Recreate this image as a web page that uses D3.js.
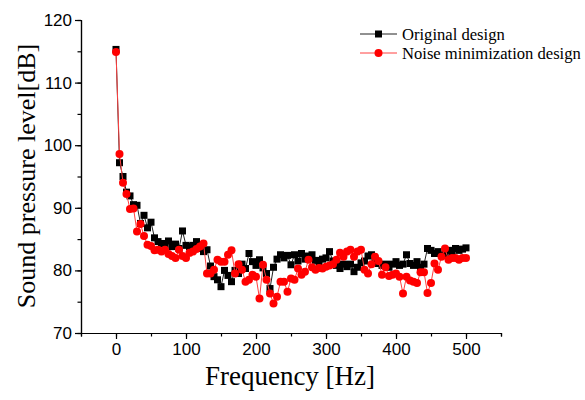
<!DOCTYPE html>
<html>
<head>
<meta charset="utf-8">
<script src="https://cdn.jsdelivr.net/npm/d3@7"></script>
<style>
  body { margin: 0; background: #fff; }
  .tick text { font-family: "Liberation Sans", Arial, sans-serif; font-size: 17px; fill: #000; }
  .axis path, .axis line { stroke: #000; stroke-width: 1.2; }
</style>
</head>
<body>
<svg id="spl_graph"></svg>
<script>
// frequency grid, 5 Hz step
const freqs = d3.range(0, 501, 5);

const seriesNames = ["Original design", "Noise minimization design"];

const originalSPL = [
  115.3, 97.2, 95.0, 92.5, 91.9, 90.5, 90.4, 87.5, 88.8, 86.8,
  87.7, 85.2, 84.6, 84.3, 84.0, 84.7, 83.8, 84.2, 83.5, 86.3,
  84.0, 83.8, 84.0, 84.6, 83.5, 83.0, 83.3, 80.7, 79.0, 78.5,
  77.4, 80.0, 79.2, 78.2, 80.0, 79.5, 81.0, 80.3, 82.7, 81.4,
  80.8, 81.7, 80.4, 79.5, 77.1, 80.5, 81.8, 82.5, 82.0, 82.4,
  80.9, 82.5, 81.5, 82.7, 81.8, 82.3, 82.5, 81.6, 81.4, 81.8,
  82.0, 83.0, 81.5, 80.8, 80.3, 81.0, 80.6, 81.0, 79.8, 80.5,
  81.2, 81.5, 82.3, 82.5, 81.5, 81.1, 80.8, 81.0, 80.5, 81.0,
  81.4, 80.8, 81.0, 82.5, 81.1, 80.8, 81.4, 80.5, 81.0, 83.5,
  83.2, 82.7, 83.0, 82.4, 82.6, 83.2, 82.8, 83.5, 83.2, 83.4,
  83.6
];

const optimizedSPL = [
  114.9, 98.6, 94.0, 92.2, 89.8, 89.9, 86.2, 87.4, 85.5, 84.1,
  83.9, 83.2, 83.3, 83.0, 83.3, 82.6, 82.3, 82.0, 83.3, 82.3,
  82.0, 82.8, 83.0, 83.4, 83.8, 84.3, 79.5, 79.5, 80.1, 81.7,
  81.4, 81.4, 82.5, 83.2, 79.5, 81.0, 80.1, 78.2, 78.5, 79.3,
  79.0, 75.5, 80.9, 78.5, 76.3, 74.7, 75.8, 78.2, 78.2, 76.6,
  78.7, 78.5, 80.3, 79.3, 79.8, 81.7, 80.5, 80.1, 80.4, 80.3,
  80.6, 80.8, 81.0, 81.7, 82.8, 82.2, 83.0, 83.3, 82.2, 83.0,
  83.3, 80.1, 79.5, 81.0, 82.2, 81.5, 79.3, 80.5, 79.1, 79.3,
  79.5, 79.0, 76.3, 79.0, 78.4, 78.2, 78.0, 79.7, 79.7, 76.4,
  78.0, 81.1, 80.1, 82.2, 83.5, 81.7, 82.0, 82.0, 81.7, 82.0,
  82.0
];

const xTicks = [0, 100, 200, 300, 400, 500];
const yTicks = [70, 80, 90, 100, 110, 120];

const svg_width = 585, svg_height = 400;
const margin = { top: 20, right: 84, bottom: 67, left: 81 },
    width = svg_width - margin.left - margin.right,
    height = svg_height - margin.top - margin.bottom;

const svg = d3.select("#spl_graph")
    .attr("width", svg_width)
    .attr("height", svg_height)
    .append("g")
    .attr("transform", `translate(${margin.left},${margin.top})`);

const x = d3.scaleLinear().range([0, width]).domain([-50, 550]);
const y = d3.scaleLinear().range([height, 0]).domain([70, 120]);

// minor ticks first, then labelled major ticks
svg.append("g")
    .attr("class", "axis")
    .attr("transform", `translate(0, ${height})`)
    .call(d3.axisBottom(x).tickValues(d3.range(-50, 551, 50)).tickSize(3.5).tickFormat(""));

svg.append("g")
    .attr("class", "axis")
    .attr("transform", `translate(0, ${height})`)
    .call(d3.axisBottom(x).tickValues(xTicks).tickSize(6).tickPadding(4).tickSizeOuter(0));

svg.append("g")
    .attr("class", "axis")
    .call(d3.axisLeft(y).tickValues(d3.range(70, 121, 5)).tickSize(3.5).tickFormat(""));

svg.append("g")
    .attr("class", "axis")
    .call(d3.axisLeft(y).tickValues(yTicks).tickSize(6).tickPadding(3).tickSizeOuter(0));

svg.append("text")
    .attr("x", 290 - margin.left)
    .attr("y", 385 - margin.top)
    .attr("text-anchor", "middle")
    .style("font-family", "'Liberation Serif', 'Times New Roman', serif")
    .style("font-size", "27px")
    .text("Frequency [Hz]");

svg.append("text")
    .attr("transform", `translate(${35 - margin.left}, ${176 - margin.top}) rotate(-90)`)
    .attr("text-anchor", "middle")
    .style("font-family", "'Liberation Serif', 'Times New Roman', serif")
    .style("font-size", "26px")
    .text("Sound pressure level[dB]");

const data1 = freqs.map((f, i) => ({ f: f, v: originalSPL[i] }));
const data2 = freqs.map((f, i) => ({ f: f, v: optimizedSPL[i] }));

const line = d3.line()
    .x(d => x(d.f))
    .y(d => y(d.v));

// original design: black squares
svg.append("path")
    .datum(data1)
    .attr("fill", "none")
    .attr("stroke", "#222")
    .attr("stroke-width", 1)
    .attr("d", line);

svg.selectAll(".sq")
    .data(data1)
    .enter().append("rect")
    .attr("class", "sq")
    .attr("x", d => x(d.f) - 3.5)
    .attr("y", d => y(d.v) - 3.5)
    .attr("width", 7)
    .attr("height", 7)
    .attr("fill", "#000");

// noise minimization design: red circles
svg.append("path")
    .datum(data2)
    .attr("fill", "none")
    .attr("stroke", "#ff4040")
    .attr("stroke-width", 1)
    .attr("d", line);

svg.selectAll(".dot")
    .data(data2)
    .enter().append("circle")
    .attr("class", "dot")
    .attr("cx", d => x(d.f))
    .attr("cy", d => y(d.v))
    .attr("r", 4)
    .attr("fill", "#ff0000");

// legend
const legend = d3.select("#spl_graph").append("g");
const colors = ["#000", "#ff0000"];

seriesNames.forEach((name, i) => {
    const ly = 34 + i * 19;
    legend.append("line")
        .attr("x1", 360).attr("x2", 397)
        .attr("y1", ly).attr("y2", ly)
        .attr("stroke", i == 0 ? "#222" : "#ff4040")
        .attr("stroke-width", 1);
    if (i == 0) {
        legend.append("rect")
            .attr("x", 378.5 - 3.5).attr("y", ly - 3.5)
            .attr("width", 7).attr("height", 7)
            .attr("fill", colors[i]);
    } else {
        legend.append("circle")
            .attr("cx", 378.5).attr("cy", ly)
            .attr("r", 4)
            .attr("fill", colors[i]);
    }
    legend.append("text")
        .attr("x", 402)
        .attr("y", ly)
        .attr("dy", "0.35em")
        .style("font-family", "'Liberation Serif', 'Times New Roman', serif")
        .style("font-size", "16.6px")
        .text(name);
});
</script>
</body>
</html>
